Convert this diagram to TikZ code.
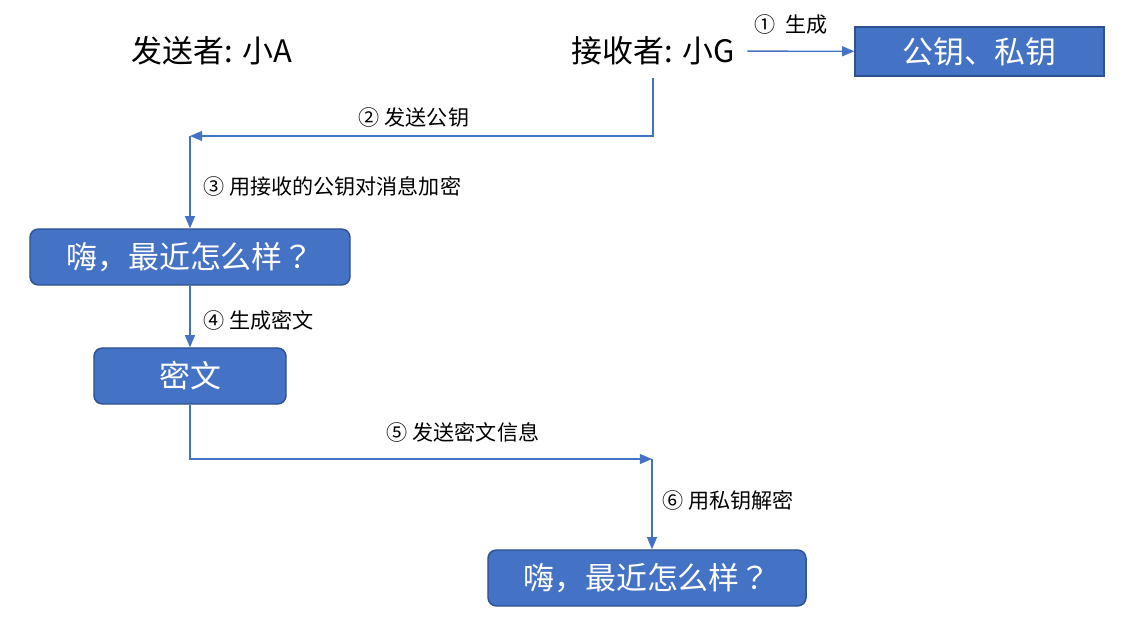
\documentclass[tikz,border=0pt]{standalone}
\usepackage{fontspec}
\setmainfont{Noto Sans CJK SC}
\newfontfamily\tcfont{Noto Sans CJK TC}
\usepackage{tikz}
\usetikzlibrary{positioning}
\usetikzlibrary{arrows}
\definecolor{boxblue}{HTML}{4472C4}
\definecolor{boxedge}{HTML}{2F528F}
\newcommand{\qmark}{{\tcfont ？}}
\tikzset{
  bigtext/.style={font=\fontsize{22}{26}\selectfont},
  steplabel/.style={font=\fontsize{15}{18}\selectfont, inner sep=0pt},
  bluebox/.style={draw=boxedge, line width=1pt, fill=boxblue, text=white,
    font=\fontsize{22}{26}\selectfont, minimum height=1.4cm, inner sep=0pt},
  link/.style={draw=boxblue, line width=1pt},
}
\begin{document}
\begin{tikzpicture}[x=0.025cm, y=-0.025cm]
\useasboundingbox (0,0) rectangle (1124,636);
%\draw node (snd) at (213,50) {sender};
\node[bigtext, inner sep=0pt] (snd) at (212,51) {发送者: 小A};
\node[bigtext, inner sep=9pt] (rcv) at (653,51) {接收者: 小G};
\node[bluebox, rounded corners=0pt, minimum width=6.225cm, minimum height=1.225cm] (key) at (979.5,51.5) {公钥、私钥};
\node[bluebox, rounded corners=6pt, minimum width=8cm] (msg) at (190,257) {嗨，最近怎么样\qmark};
\node[bluebox, rounded corners=6pt, minimum width=4.8cm] (cipher) at (190,376) {密文};
\node[bluebox, rounded corners=6pt, minimum width=7.95cm] (plain) at (647,578) {嗨，最近怎么样\qmark};
\coordinate (turnA) at (190,136);
\coordinate (turnB) at (652,459);
% labels
\node[steplabel] (l1) at (791,24) {①\ \ 生成};
\node[steplabel] (l2) at (414,117) {② 发送公钥};
\node[steplabel, anchor=west] (l3) at (203,186) {③ 用接收的公钥对消息加密};
\node[steplabel, anchor=west] (l4) at (203,320) {④ 生成密文};
\node[steplabel] (l5) at (463,432) {⑤ 发送密文信息};
\node[steplabel, anchor=west] (l6) at (662,500) {⑥ 用私钥解密};
% connectors
\draw[link,->,>=triangle 45] (rcv) -- (key);
\draw[link,->,>=triangle 45] (rcv.south) |- (turnA);
\draw[link,->,>=triangle 45] (turnA) -- (msg.north);
\draw[link,->,>=triangle 45] (msg) -- (cipher);
\draw[link,->,>=triangle 45] (cipher.south) |- (turnB);
\draw[link,->,>=triangle 45] (turnB) -- (turnB |- plain.north);
\end{tikzpicture}
\end{document}
